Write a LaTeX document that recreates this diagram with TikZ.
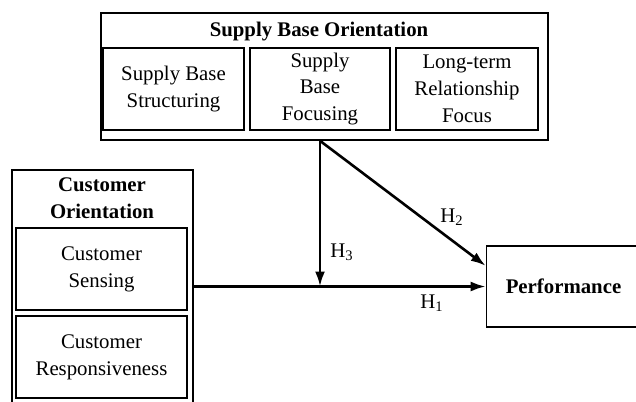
\documentclass[tikz,border=0pt]{standalone}
\usepackage{fontspec}
\setmainfont{Liberation Serif}
\usetikzlibrary{arrows.meta}
\usetikzlibrary{calc}
\tikzset{>={Latex[length=7.5pt,width=5pt]}}
\tikzset{
  box/.style={draw, line width=0.8pt, align=center, inner sep=0pt},
  link/.style={->, line width=1.3pt}
}

\begin{document}
\begin{tikzpicture}[x=0.5pt, y=-0.5pt, font=\fontsize{10.4}{13.4}\selectfont]
      \useasboundingbox (0,0) rectangle (636,401);
      % supply base orientation
      \node (sbo) at (324.5,76.5) [box, minimum width=223.5pt, minimum height=63.5pt] {};
      \node (sbotitle) at (319,32) [] {\textbf{Supply Base Orientation}};
      \node (sbs) at (173.5,89) [box, minimum width=70.5pt, minimum height=41pt] {Supply Base\\Structuring};
      \node (sbf) at (320,89) [box, minimum width=70pt, minimum height=41pt] {Supply\\Base\\Focusing};
      \node (ltr) at (467,89) [box, minimum width=71pt, minimum height=41pt] {Long-term\\Relationship\\Focus};
      % customer orientation
      \node (co) at (102.5,288) [box, minimum width=90.5pt, minimum height=118pt] {};
      \node (cotitle) at (102,198.5) [align=center] {\textbf{Customer}\\\textbf{Orientation}};
      \node (cs) at (101.5,269) [box, minimum width=85.5pt, minimum height=41pt] {Customer\\Sensing};
      \node (cr) at (101.5,357) [box, minimum width=85.5pt, minimum height=41pt] {Customer\\Responsiveness};
      % performance
      \node (perf) at (563.5,286.5) [box, minimum width=77pt, minimum height=40.5pt] {\textbf{Performance}};

      \coordinate (top) at (sbf |- sbo.south);
      \coordinate (mid) at (sbf |- perf.west);
      \coordinate (hit) at ($(perf.north west)!0.5!(perf.west)$);
      \draw[link] (perf.west -| co.east) -- (perf.west);
      \draw[link] (top) -- (mid);
      \draw[link] (top) -- (hit);
      \node (h1) at (432,303) [] {H\textsubscript{1}};
      \node (h2) at (452,217) [] {H\textsubscript{2}};
      \node (h3) at (342,252) [] {H\textsubscript{3}};
\end{tikzpicture}
\end{document}
